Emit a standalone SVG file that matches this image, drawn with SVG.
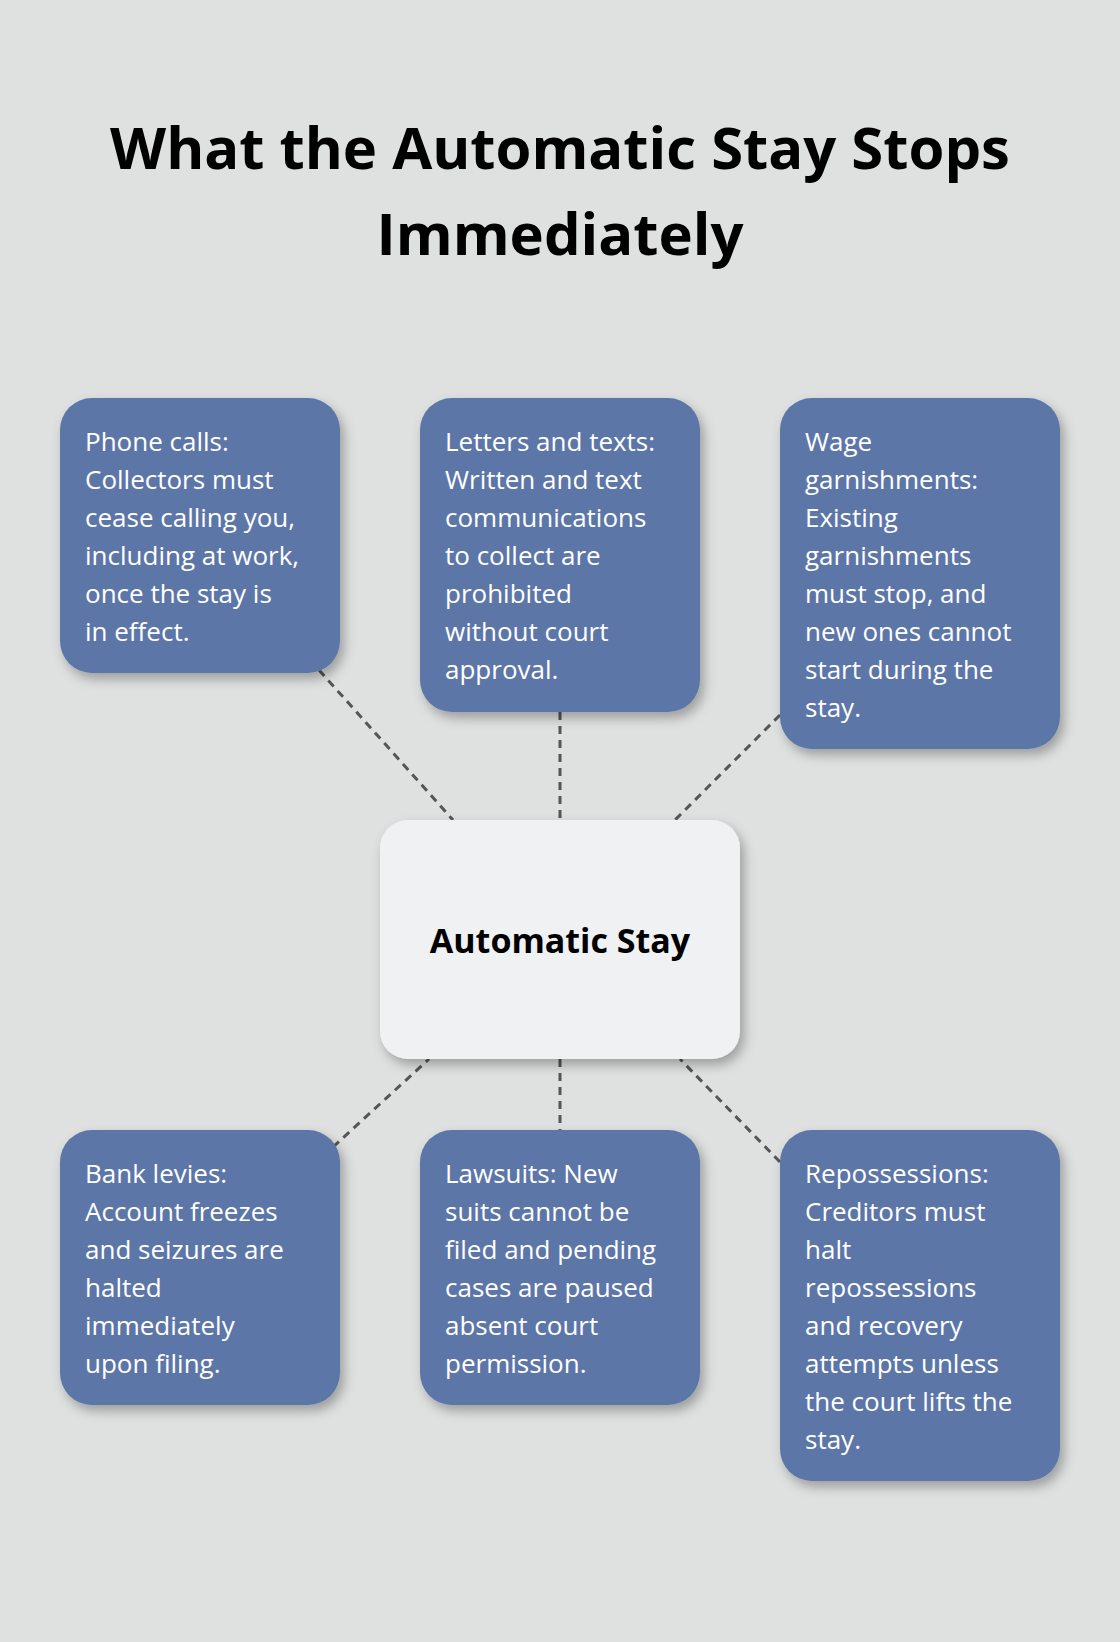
<svg xmlns="http://www.w3.org/2000/svg" width="1120" height="1642" viewBox="0 0 1120 1642">
<defs>
<filter id="sh" x="-20%" y="-20%" width="150%" height="150%"><feDropShadow dx="4" dy="6" stdDeviation="6" flood-color="#000" flood-opacity="0.3"/></filter>
<style>
.b{fill:#5d76a8;filter:url(#sh)}
.t{font-family:"Open Sans","Noto Sans",sans-serif;font-size:26px;fill:#fff}
.c{stroke:#555;stroke-width:3;stroke-dasharray:8 6;fill:none}
.h{font-family:"Open Sans","Noto Sans",sans-serif;font-weight:bold;fill:#000;text-anchor:middle}
</style>
</defs>
<rect width="1120" height="1642" fill="#dfe1e0"/>
<text class="h" font-size="58" x="560" y="169">What the Automatic Stay Stops</text>
<text class="h" font-size="58" x="560" y="255">Immediately</text>
<g id="connectors">
<line class="c" x1="319" y1="670" x2="453" y2="820"/>
<line class="c" x1="560" y1="712" x2="560" y2="820"/>
<line class="c" x1="780" y1="715" x2="675" y2="820"/>
<line class="c" x1="333" y1="1147" x2="429" y2="1059"/>
<line class="c" x1="560" y1="1059" x2="560" y2="1130"/>
<line class="c" x1="780" y1="1162" x2="680" y2="1059"/>
</g>
<g id="center"><rect x="380" y="820" width="360" height="239" rx="28" fill="#eff1f3" filter="url(#sh)"/><text class="h" font-size="34" x="560" y="953">Automatic Stay</text></g>
<g id="phone"><rect class="b" x="60" y="398" width="280" height="275" rx="32"/><text class="t"><tspan x="85" y="451">Phone calls:</tspan><tspan x="85" y="489">Collectors must</tspan><tspan x="85" y="527">cease calling you,</tspan><tspan x="85" y="565">including at work,</tspan><tspan x="85" y="603">once the stay is</tspan><tspan x="85" y="641">in effect.</tspan></text></g>
<g id="letters"><rect class="b" x="420" y="398" width="280" height="314" rx="32"/><text class="t"><tspan x="445" y="451">Letters and texts:</tspan><tspan x="445" y="489">Written and text</tspan><tspan x="445" y="527">communications</tspan><tspan x="445" y="565">to collect are</tspan><tspan x="445" y="603">prohibited</tspan><tspan x="445" y="641">without court</tspan><tspan x="445" y="679">approval.</tspan></text></g>
<g id="wage"><rect class="b" x="780" y="398" width="280" height="351" rx="32"/><text class="t"><tspan x="805" y="451">Wage</tspan><tspan x="805" y="489">garnishments:</tspan><tspan x="805" y="527">Existing</tspan><tspan x="805" y="565">garnishments</tspan><tspan x="805" y="603">must stop, and</tspan><tspan x="805" y="641">new ones cannot</tspan><tspan x="805" y="679">start during the</tspan><tspan x="805" y="717">stay.</tspan></text></g>
<g id="bank"><rect class="b" x="60" y="1130" width="280" height="275" rx="32"/><text class="t"><tspan x="85" y="1183">Bank levies:</tspan><tspan x="85" y="1221">Account freezes</tspan><tspan x="85" y="1259">and seizures are</tspan><tspan x="85" y="1297">halted</tspan><tspan x="85" y="1335">immediately</tspan><tspan x="85" y="1373">upon filing.</tspan></text></g>
<g id="lawsuits"><rect class="b" x="420" y="1130" width="280" height="275" rx="32"/><text class="t"><tspan x="445" y="1183">Lawsuits: New</tspan><tspan x="445" y="1221">suits cannot be</tspan><tspan x="445" y="1259">filed and pending</tspan><tspan x="445" y="1297">cases are paused</tspan><tspan x="445" y="1335">absent court</tspan><tspan x="445" y="1373">permission.</tspan></text></g>
<g id="repo"><rect class="b" x="780" y="1130" width="280" height="351" rx="32"/><text class="t"><tspan x="805" y="1183">Repossessions:</tspan><tspan x="805" y="1221">Creditors must</tspan><tspan x="805" y="1259">halt</tspan><tspan x="805" y="1297">repossessions</tspan><tspan x="805" y="1335">and recovery</tspan><tspan x="805" y="1373">attempts unless</tspan><tspan x="805" y="1411">the court lifts the</tspan><tspan x="805" y="1449">stay.</tspan></text></g>
</svg>
